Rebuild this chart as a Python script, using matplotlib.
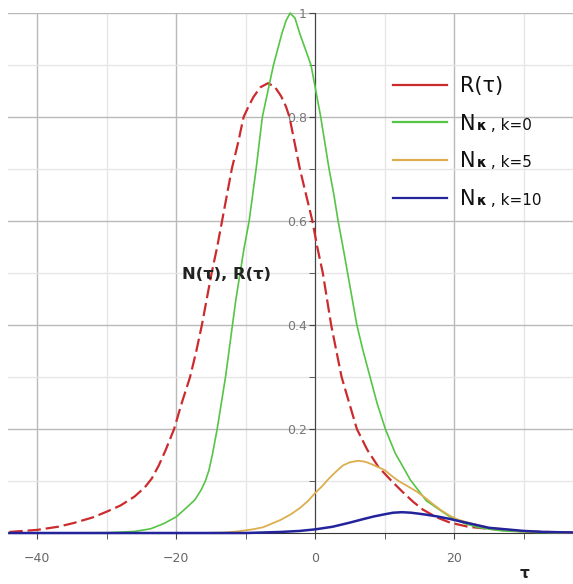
import matplotlib
matplotlib.use("Agg")
import matplotlib.pyplot as plt
from matplotlib.lines import Line2D

# values
tau_r = [-44, -40, -37, -34.8, -32, -30, -28, -26, -24.5, -23.5, -22.5, -21.5, -20.3,
         -19.2, -18.0, -17.1, -16.3, -15.6, -14.9, -14.1, -13.4, -12.0, -11.1, -10.3,
         -9.6, -8.9, -7.9, -6.8, -5.8, -4.9, -4.2, -3.7, -2.2, -1.3, -0.4, 0.3, 1.1, 2.3,
         3.8, 4.9, 6.0, 7.5, 9.1, 11.0, 12.5, 14.1, 15.5, 17.5, 19.4, 22, 25, 30, 37]
r_vals = [0.002, 0.006, 0.012, 0.019, 0.03, 0.041, 0.053, 0.07, 0.088, 0.105, 0.13,
          0.16, 0.2, 0.25, 0.3, 0.35, 0.4, 0.45, 0.5, 0.55, 0.6, 0.7, 0.75, 0.8,
          0.82, 0.838, 0.857, 0.865, 0.858, 0.84, 0.82, 0.8, 0.7, 0.65, 0.6, 0.55, 0.5,
          0.4, 0.3, 0.25, 0.2, 0.16, 0.127, 0.1, 0.08, 0.06, 0.045, 0.03, 0.02, 0.012,
          0.008, 0.003, 0.001]

tau_n0 = [-44, -30, -26, -23.7, -21.8, -20, -18.4, -17.3, -16.4, -15.8, -15.3, -14.8,
          -14.1, -13.5, -12.9, -12.4, -11.9, -11.4, -10.8, -10.2, -9.5, -8.5, -7.6,
          -6.8, -6.0, -5.4, -4.8, -4.2, -3.6, -2.9, -2.2, -1.4, -0.6, 0.1, 0.8, 1.4,
          2.0, 2.7, 3.3, 4.0, 4.8, 6.0, 6.9, 7.9, 8.9, 10.1, 11.5, 13.7, 16, 19.4, 21.5,
          23.7, 27, 32, 37]
n0_vals = [0, 0.0005, 0.003, 0.008, 0.018, 0.031, 0.05, 0.064, 0.083, 0.1, 0.12, 0.15,
           0.2, 0.25, 0.3, 0.35, 0.4, 0.45, 0.5, 0.55, 0.6, 0.7, 0.8, 0.85, 0.9, 0.93,
           0.96, 0.985, 1.0, 0.99, 0.96, 0.93, 0.9, 0.85, 0.8, 0.75, 0.7, 0.65, 0.6,
           0.55, 0.49, 0.4, 0.35, 0.3, 0.25, 0.2, 0.154, 0.102, 0.062, 0.031, 0.018,
           0.01, 0.004, 0.001, 0]

tau_n5 = [-44, -16, -13, -11.2, -9, -7.5, -5, -3.5, -2.2, -1, 0, 1, 2, 3, 4, 5, 6.2,
          7.2, 8, 9, 10, 11, 12, 13.3, 14.7, 16, 17, 18.2, 19.4, 20.5, 22, 25, 30, 37]
n5_vals = [0, 0, 0.001, 0.003, 0.007, 0.011, 0.025, 0.036, 0.048, 0.062, 0.077, 0.09,
           0.105, 0.118, 0.13, 0.136, 0.139, 0.137, 0.133, 0.127, 0.121, 0.11, 0.1,
           0.09, 0.079, 0.066, 0.055, 0.043, 0.033, 0.026, 0.02, 0.01, 0.003, 0]

tau_n10 = [-44, -10, -5, -2.2, 0, 2.5, 5, 7, 8.5, 10, 11.2, 12.5, 13.8, 15, 16.1, 17.5,
           19.4, 21, 23, 25, 27.5, 30, 33, 37]
n10_vals = [0, 0, 0.002, 0.004, 0.007, 0.012, 0.02, 0.027, 0.032, 0.036, 0.039, 0.04,
            0.039, 0.037, 0.035, 0.032, 0.027, 0.022, 0.016, 0.01, 0.007, 0.004, 0.002,
            0.001]

x_major = [-40, -20, 0, 20]
x_minor = [-30, -10, 10, 30]
y_major = [0.2, 0.4, 0.6, 0.8, 1.0]
y_labels = ["0.2", "0.4", "0.6", "0.8", "1"]
y_minor = [0.1, 0.3, 0.5, 0.7, 0.9]

legend_names = ["R(τ)", "N", "N", "N"]
legend_k = ["k=0", "k=5", "k=10"]

c_red = "#cc2b2e"
c_green = "#55c545"
c_orange = "#dcae4e"
c_blue = "#23239c"

fig = plt.figure(figsize=(5.73, 5.84), dpi=100)
ax = fig.add_axes([8 / 573, 51 / 584, 565 / 573, 520 / 584])
ax.set_xlim(-44.2, 37.1)
ax.set_ylim(0, 1)

ax.plot(tau_r, r_vals, color=c_red, lw=1.6, dashes=(6, 2.2), clip_on=False, zorder=3)
ax.plot(tau_n0, n0_vals, color=c_green, lw=1.2, clip_on=False, zorder=3)
ax.plot(tau_n5, n5_vals, color=c_orange, lw=1.3, clip_on=False, zorder=3)
ax.plot(tau_n10, n10_vals, color=c_blue, lw=1.8, clip_on=False, zorder=4)

# axes through the origin
ax.spines["left"].set_position(("data", 0))
ax.spines["right"].set_visible(False)
ax.spines["top"].set_visible(False)
ax.spines["left"].set_color("#444444")
ax.spines["bottom"].set_color("#333333")

ax.set_xticks(x_major)
ax.set_xticks(x_minor, minor=True)
ax.set_yticks(y_major)
ax.set_yticklabels(y_labels)
ax.set_yticks(y_minor, minor=True)
ax.tick_params(axis="x", which="both", direction="out", length=4, color="#444444",
               labelsize=9, labelcolor="#666666", pad=10)
ax.tick_params(axis="y", which="both", direction="out", length=4, color="#444444",
               labelsize=9, labelcolor="#777777", pad=2)

ax.grid(which="major", color="#b9b9b9", lw=1)
ax.grid(which="minor", color="#e6e6e6", lw=1)
ax.set_axisbelow(True)

ax.set_xlabel("τ", fontsize=11, fontweight="bold", color="#222222")
ax.xaxis.set_label_coords((525 - 8) / 565, -0.064)

ax.text(-12.8, 0.498, "N(τ), R(τ)", fontsize=11.8, fontweight="bold", color="#222222",
        ha="center", va="center")

handles = [Line2D([], [], color=c, lw=1.6) for c in (c_red, c_green, c_orange, c_blue)]
leg = ax.legend(handles, legend_names, loc="upper left", bbox_to_anchor=(0.681, 0.879),
                frameon=False, borderpad=0, borderaxespad=0, handlelength=2.6,
                handletextpad=0.63, labelspacing=0.85, fontsize=15)
for t in leg.get_texts():
    t.set_color("#111111")

# small "κ , k=.." after each N in the legend
fig.canvas.draw()
rend = fig.canvas.get_renderer()
W, H = fig.bbox.width, fig.bbox.height
for txt, k in zip(leg.get_texts()[1:], legend_k):
    bb = txt.get_window_extent(rend)
    kap = fig.text((bb.x1 + 1) / W, (bb.y0 + 1) / H, "κ", fontsize=10, fontweight="bold",
                   color="#111111", va="bottom", ha="left")
    kb = kap.get_window_extent(rend)
    fig.text(kb.x1 / W, (bb.y0 + 1) / H, " , " + k, fontsize=11, color="#111111",
             va="bottom", ha="left")

fig.savefig("out.png", dpi=100)
